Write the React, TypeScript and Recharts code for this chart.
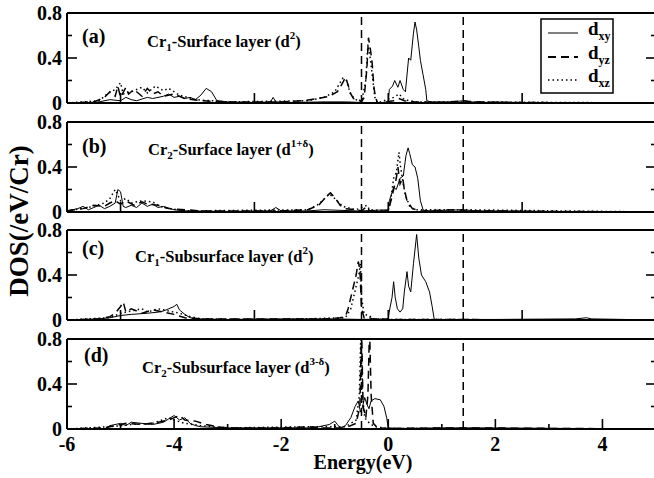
import React from "react";
import { LineChart, Line, XAxis, YAxis, ReferenceLine } from "recharts";

type Pts = [number, number][];

// (a) Cr1 surface layer
const aXY: Pts = [
  [-6, 0], [-5.6, 0.005], [-5.4, 0.01], [-5.2, 0.03], [-5.0, 0.02], [-4.9, 0.05], [-4.8, 0.03],
  [-4.7, 0.02], [-4.5, 0.05], [-4.4, 0.04], [-4.2, 0.06], [-4.1, 0.08], [-4.0, 0.05], [-3.9, 0.06],
  [-3.8, 0.04], [-3.7, 0.05], [-3.6, 0.03], [-3.5, 0.07], [-3.4, 0.13], [-3.3, 0.1], [-3.2, 0.02],
  [-3.0, 0.01], [-2.5, 0.005], [-2.2, 0.01], [-2.15, 0.05], [-2.1, 0.01], [-1.8, 0.005], [-1.2, 0.01],
  [-0.8, 0.01], [-0.5, 0.005], [-0.2, 0], [0, 0.01], [0.02, 0.12], [0.08, 0.15], [0.12, 0.2],
  [0.18, 0.14], [0.22, 0.2], [0.28, 0.12], [0.32, 0.1], [0.38, 0.4], [0.42, 0.38], [0.47, 0.62],
  [0.5, 0.72], [0.53, 0.65], [0.57, 0.5], [0.6, 0.38], [0.65, 0.25], [0.7, 0.12], [0.72, 0.02],
  [0.8, 0.01], [1.2, 0.01], [1.4, 0.02], [1.5, 0.01], [1.8, 0.005], [2.0, 0.01], [2.4, 0.005], [5, 0],
];
const aYZ: Pts = [
  [-6, 0], [-5.5, 0.01], [-5.3, 0.05], [-5.2, 0.1], [-5.1, 0.06], [-5.05, 0.15], [-5.0, 0.05],
  [-4.9, 0.14], [-4.85, 0.08], [-4.75, 0.12], [-4.6, 0.06], [-4.5, 0.13], [-4.4, 0.08], [-4.3, 0.1],
  [-4.2, 0.06], [-4.0, 0.08], [-3.8, 0.04], [-3.5, 0.02], [-3.0, 0.01], [-2.0, 0.01], [-1.6, 0.02],
  [-1.3, 0.04], [-1.1, 0.06], [-0.95, 0.1], [-0.85, 0.18], [-0.8, 0.23], [-0.75, 0.16], [-0.7, 0.08],
  [-0.65, 0.04], [-0.55, 0.03], [-0.5, 0.01], [-0.45, 0.05], [-0.4, 0.3], [-0.37, 0.58], [-0.34, 0.5],
  [-0.3, 0.35], [-0.27, 0.15], [-0.24, 0.05], [-0.2, 0], [0.1, 0.02], [0.2, 0.04], [0.3, 0.02],
  [0.5, 0.01], [1.0, 0.005], [1.4, 0.02], [1.5, 0.015], [2, 0.005], [5, 0],
];
const aXZ: Pts = [
  [-6, 0], [-5.4, 0.02], [-5.25, 0.08], [-5.1, 0.12], [-5.0, 0.18], [-4.95, 0.08], [-4.8, 0.1],
  [-4.6, 0.14], [-4.5, 0.09], [-4.35, 0.15], [-4.2, 0.11], [-4.1, 0.13], [-3.9, 0.07], [-3.6, 0.03],
  [-3.0, 0.01], [-1.5, 0.02], [-1.2, 0.05], [-1.0, 0.1], [-0.85, 0.22], [-0.78, 0.2], [-0.7, 0.07],
  [-0.6, 0.03], [-0.5, 0.01], [-0.42, 0.2], [-0.38, 0.52], [-0.35, 0.45], [-0.3, 0.25], [-0.25, 0.05],
  [-0.2, 0], [0.1, 0.05], [0.2, 0.08], [0.3, 0.03], [0.5, 0.01], [1.4, 0.01], [5, 0],
];

// (b) Cr2 surface layer
const bXY: Pts = [
  [-6, 0.01], [-5.8, 0.03], [-5.7, 0.05], [-5.6, 0.02], [-5.5, 0.04], [-5.4, 0.06], [-5.3, 0.03],
  [-5.2, 0.05], [-5.1, 0.08], [-5.05, 0.2], [-5.0, 0.18], [-4.95, 0.05], [-4.9, 0.04], [-4.8, 0.06],
  [-4.7, 0.04], [-4.6, 0.08], [-4.5, 0.05], [-4.4, 0.07], [-4.3, 0.04], [-4.2, 0.05], [-4.0, 0.02],
  [-3.8, 0.01], [-3.0, 0.005], [-2.2, 0.01], [-2.1, 0.04], [-2.0, 0.01], [-1.5, 0.01], [-1.2, 0.02],
  [-0.6, 0.01], [-0.5, 0.01], [0, 0.02], [0.02, 0.1], [0.1, 0.22], [0.15, 0.2], [0.22, 0.3],
  [0.28, 0.32], [0.33, 0.5], [0.37, 0.57], [0.4, 0.52], [0.45, 0.42], [0.5, 0.4], [0.55, 0.3],
  [0.6, 0.1], [0.65, 0.02], [0.7, 0.01], [1.4, 0.02], [1.6, 0.01], [2.0, 0.01], [3, 0.005], [5, 0],
];
const bYZ: Pts = [
  [-6, 0.01], [-5.7, 0.03], [-5.5, 0.06], [-5.3, 0.05], [-5.2, 0.08], [-5.1, 0.1], [-5.0, 0.07],
  [-4.9, 0.1], [-4.75, 0.06], [-4.6, 0.09], [-4.5, 0.07], [-4.3, 0.06], [-4.1, 0.03], [-3.5, 0.01],
  [-2.0, 0.01], [-1.5, 0.02], [-1.3, 0.06], [-1.15, 0.14], [-1.08, 0.17], [-1.0, 0.13], [-0.9, 0.06],
  [-0.8, 0.03], [-0.6, 0.02], [-0.5, 0.01], [-0.4, 0.05], [-0.35, 0.01], [0, 0.01], [0.05, 0.1],
  [0.1, 0.2], [0.15, 0.3], [0.18, 0.4], [0.22, 0.25], [0.27, 0.3], [0.3, 0.2], [0.35, 0.1],
  [0.45, 0.03], [0.6, 0.01], [1.3, 0.02], [1.45, 0.01], [5, 0],
];
const bXZ: Pts = [
  [-6, 0.01], [-5.6, 0.04], [-5.3, 0.08], [-5.2, 0.12], [-5.1, 0.2], [-5.0, 0.1], [-4.9, 0.12],
  [-4.8, 0.08], [-4.6, 0.1], [-4.4, 0.09], [-4.3, 0.06], [-4.2, 0.04], [-3.8, 0.01], [-1.5, 0.02],
  [-1.3, 0.07], [-1.1, 0.16], [-1.0, 0.12], [-0.85, 0.05], [-0.6, 0.02], [-0.4, 0.06], [-0.35, 0.02],
  [0, 0.01], [0.05, 0.12], [0.1, 0.3], [0.15, 0.35], [0.2, 0.53], [0.23, 0.4], [0.28, 0.25],
  [0.32, 0.15], [0.4, 0.05], [0.5, 0.02], [1.4, 0.02], [5, 0],
];

// (c) Cr1 subsurface layer
const cXY: Pts = [
  [-6, 0], [-5.4, 0.01], [-5.2, 0.02], [-5.0, 0.04], [-4.8, 0.05], [-4.5, 0.06], [-4.3, 0.07],
  [-4.2, 0.08], [-4.1, 0.1], [-4.0, 0.12], [-3.95, 0.14], [-3.9, 0.09], [-3.8, 0.05], [-3.7, 0.02],
  [-3.5, 0.01], [-3, 0.005], [-2, 0.01], [-1, 0.01], [-0.5, 0.005], [0, 0.01], [0.02, 0.08],
  [0.07, 0.2], [0.1, 0.34], [0.13, 0.2], [0.17, 0.1], [0.22, 0.07], [0.27, 0.1], [0.3, 0.25],
  [0.35, 0.43], [0.38, 0.3], [0.42, 0.25], [0.47, 0.5], [0.53, 0.76], [0.57, 0.55], [0.62, 0.4],
  [0.7, 0.34], [0.77, 0.25], [0.82, 0.12], [0.86, 0], [1, 0.005], [2, 0.005], [3.5, 0.01],
  [3.7, 0.02], [3.8, 0.01], [5, 0],
];
const cYZ: Pts = [
  [-6, 0], [-5.4, 0.01], [-5.2, 0.03], [-5.1, 0.06], [-5.0, 0.12], [-4.95, 0.16], [-4.9, 0.07],
  [-4.8, 0.1], [-4.6, 0.06], [-4.4, 0.09], [-4.2, 0.07], [-4.0, 0.05], [-3.8, 0.02], [-3.5, 0.01],
  [-2, 0.01], [-1.2, 0.01], [-0.9, 0.02], [-0.8, 0.03], [-0.75, 0.1], [-0.7, 0.2], [-0.65, 0.3],
  [-0.6, 0.4], [-0.56, 0.52], [-0.53, 0.45], [-0.5, 0.1], [-0.45, 0.02], [-0.4, 0.03], [-0.3, 0.01],
  [0, 0.005], [5, 0],
];
const cXZ: Pts = [
  [-6, 0], [-5.2, 0.02], [-5.0, 0.06], [-4.8, 0.08], [-4.6, 0.1], [-4.5, 0.07], [-4.3, 0.1],
  [-4.1, 0.08], [-3.9, 0.06], [-3.7, 0.03], [-3.5, 0.01], [-2, 0.005], [-0.8, 0.02], [-0.7, 0.1],
  [-0.6, 0.3], [-0.55, 0.4], [-0.52, 0.5], [-0.5, 0.2], [-0.45, 0.05], [-0.35, 0.04], [-0.3, 0.01],
  [0, 0.005], [5, 0],
];

// (d) Cr2 subsurface layer
const dXY: Pts = [
  [-6, 0], [-5.3, 0], [-5.2, 0.03], [-5.0, 0.05], [-4.9, 0.03], [-4.8, 0.06], [-4.6, 0.05],
  [-4.4, 0.04], [-4.2, 0.06], [-4.1, 0.09], [-4.0, 0.12], [-3.9, 0.08], [-3.8, 0.1], [-3.7, 0.05],
  [-3.6, 0.03], [-3.5, 0.02], [-3, 0.01], [-2, 0.01], [-1.5, 0.01], [-1.3, 0.02], [-1.1, 0.04],
  [-1.0, 0.07], [-0.95, 0.04], [-0.9, 0.01], [-0.8, 0.03], [-0.7, 0.1], [-0.62, 0.2], [-0.56, 0.25],
  [-0.52, 0.15], [-0.48, 0.2], [-0.44, 0.28], [-0.4, 0.22], [-0.36, 0.18], [-0.32, 0.25],
  [-0.25, 0.27], [-0.15, 0.26], [-0.08, 0.2], [-0.03, 0.1], [0, 0.01], [0.2, 0.005], [1, 0.01],
  [1.8, 0.01], [5, 0],
];
const dYZ: Pts = [
  [-6, 0], [-5.3, 0.01], [-5.1, 0.03], [-4.9, 0.05], [-4.6, 0.04], [-4.3, 0.06], [-4.1, 0.08],
  [-3.9, 0.12], [-3.8, 0.08], [-3.6, 0.07], [-3.4, 0.04], [-3.2, 0.02], [-3, 0.01], [-2, 0.01],
  [-1.5, 0.02], [-1.2, 0.01], [-0.8, 0.01], [-0.6, 0.05], [-0.53, 0.2], [-0.5, 0.9], [-0.47, 0.2],
  [-0.42, 0.1], [-0.38, 0.3], [-0.35, 0.9], [-0.32, 0.3], [-0.28, 0.05], [-0.2, 0.01], [0, 0.005],
  [1.4, 0.01], [5, 0],
];
const dXZ: Pts = [
  [-6, 0], [-5.2, 0.02], [-4.8, 0.04], [-4.4, 0.05], [-4.1, 0.1], [-4.0, 0.08], [-3.8, 0.05],
  [-3.5, 0.03], [-3, 0.01], [-1.5, 0.02], [-0.8, 0.02], [-0.6, 0.08], [-0.54, 0.3], [-0.51, 0.9],
  [-0.48, 0.3], [-0.44, 0.1], [-0.35, 0.05], [-0.25, 0.02], [0, 0.005], [5, 0],
];

const series = [
  [aXY, aYZ, aXZ],
  [bXY, bYZ, bXZ],
  [cXY, cYZ, cXZ],
  [dXY, dYZ, dXZ],
];

const fermiLines = [-0.5, 1.4];
const xTicksTop = [-5, -2.5, 0, 2.5, 5];
const xTicksD = [-6, -5, -4, -3, -2, -1, 0, 1, 2, 3, 4, 5];
const xLabelsD = [-6, -4, -2, 0, 2, 4];
const yTicks = [0, 0.2, 0.4, 0.6, 0.8];
const yLabels = [0, 0.4, 0.8];

const panelTops = [13, 122, 230, 339];
const PAD = 14;
const FONT = "'Liberation Serif', 'Times New Roman', serif";
const dash = { xy: undefined, yz: "8 5", xz: "1.5 3" };

const toRows = (p: Pts) => p.map(([e, v]) => ({ e, v }));

function tickLen(v: number, majors: number[]) {
  return majors.includes(v) ? 10 : 5;
}

function XTick(props: any) {
  const { x, y, payload, side, majors, labels } = props;
  const v = payload.value;
  const len = tickLen(v, majors);
  const dir = side === "bottom" ? -1 : 1;
  return (
    <g>
      <line x1={x} x2={x} y1={y} y2={y + dir * len} stroke="#000" strokeWidth={1.6} />
      {labels && labels.includes(v) && (
        <text x={x} y={y + 22} textAnchor="middle" fontFamily={FONT} fontWeight="bold" fontSize={20} fill="#000">
          {v}
        </text>
      )}
    </g>
  );
}

function YTick(props: any) {
  const { x, y, payload, side } = props;
  const v = payload.value;
  const len = tickLen(v, yLabels);
  const dir = side === "left" ? 1 : -1;
  return (
    <g>
      <line x1={x} x2={x + dir * len} y1={y} y2={y} stroke="#000" strokeWidth={1.6} />
      {side === "left" && yLabels.includes(v) && (
        <text x={x - 5} y={y} dy="0.36em" textAnchor="end" fontFamily={FONT} fontWeight="bold" fontSize={20} fill="#000">
          {v}
        </text>
      )}
    </g>
  );
}

const frame = { stroke: "#000", strokeWidth: 2 };

function Panel({ idx }: { idx: number }) {
  const last = idx === 3;
  const bottomH = last ? 50 : 1;
  const bottomPad = last ? 0 : PAD;
  const [xy, yz, xz] = series[idx];
  const ticks = last ? xTicksD : xTicksTop;
  const majors = last ? xLabelsD : xTicksTop;
  return (
    <div style={{ position: "absolute", left: 0, top: panelTops[idx] - 1 - PAD }}>
      <LineChart
        width={658}
        height={PAD + 91 + bottomH + bottomPad}
        margin={{ top: PAD, right: 1, bottom: bottomPad, left: 0 }}
      >
        <XAxis
          xAxisId="b"
          dataKey="e"
          type="number"
          domain={[-6, 5]}
          allowDataOverflow
          ticks={ticks}
          interval={0}
          height={bottomH}
          tickSize={0}
          tickMargin={0}
          tickLine={false}
          axisLine={frame}
          tick={(p: any) => <XTick {...p} side="bottom" majors={majors} labels={last ? xLabelsD : null} />}
        />
        <XAxis
          xAxisId="t"
          orientation="top"
          type="number"
          domain={[-6, 5]}
          allowDataOverflow
          ticks={ticks}
          interval={0}
          height={1}
          tickSize={0}
          tickMargin={0}
          tickLine={false}
          axisLine={frame}
          tick={(p: any) => <XTick {...p} side="top" majors={majors} labels={null} />}
        />
        <YAxis
          yAxisId="l"
          type="number"
          domain={[0, 0.8]}
          allowDataOverflow
          ticks={yTicks}
          interval={0}
          width={67}
          tickSize={0}
          tickMargin={0}
          tickLine={false}
          axisLine={frame}
          tick={(p: any) => <YTick {...p} side="left" />}
        />
        <YAxis
          yAxisId="r"
          orientation="right"
          type="number"
          domain={[0, 0.8]}
          allowDataOverflow
          ticks={yTicks}
          interval={0}
          width={1}
          tickSize={0}
          tickMargin={0}
          tickLine={false}
          axisLine={frame}
          tick={(p: any) => <YTick {...p} side="right" />}
        />
        {fermiLines.map((f) => (
          <ReferenceLine key={f} x={f} xAxisId="b" yAxisId="l" stroke="#000" strokeWidth={1.5} strokeDasharray="8 5" />
        ))}
        <Line xAxisId="b" yAxisId="l" data={toRows(xz)} dataKey="v" type="linear" dot={false} stroke="#000" strokeWidth={1.5} strokeDasharray={dash.xz} isAnimationActive={false} />
        <Line xAxisId="b" yAxisId="l" data={toRows(yz)} dataKey="v" type="linear" dot={false} stroke="#000" strokeWidth={1.5} strokeDasharray={dash.yz} isAnimationActive={false} />
        <Line xAxisId="b" yAxisId="l" data={toRows(xy)} dataKey="v" type="linear" dot={false} stroke="#000" strokeWidth={1} isAnimationActive={false} />
      </LineChart>
    </div>
  );
}

const titles = [
  { tag: "(a)", n: "1", layer: "-Surface layer (d", sup: "2" },
  { tag: "(b)", n: "2", layer: "-Surface layer (d", sup: "1+δ" },
  { tag: "(c)", n: "1", layer: "-Subsurface layer (d", sup: "2" },
  { tag: "(d)", n: "2", layer: "-Subsurface layer (d", sup: "3-δ" },
];
const tagPos = [[82, 43], [82, 153], [82, 255], [84, 362]];
const titlePos = [[147, 47], [148, 155], [135, 262], [142, 373]];

const legendItems = [
  { sub: "xy", dash: dash.xy, w: 1 },
  { sub: "yz", dash: dash.yz, w: 1.8 },
  { sub: "xz", dash: dash.xz, w: 1.5 },
];

export default function App() {
  return (
    <div style={{ position: "absolute", left: 0, top: 0, width: 654, height: 478, overflow: "hidden", background: "#fff" }}>
      {[0, 1, 2, 3].map((i) => (
        <Panel key={i} idx={i} />
      ))}
      <svg width={654} height={478} style={{ position: "absolute", left: 0, top: 0, pointerEvents: "none" }}>
        <g fontFamily={FONT} fontWeight="bold" fill="#000">
          {titles.map((t, i) => (
            <g key={t.tag}>
              <text x={tagPos[i][0]} y={tagPos[i][1]} fontSize={20}>{t.tag}</text>
              <text x={titlePos[i][0]} y={titlePos[i][1]} fontSize={16.5}>
                Cr<tspan dy={4} fontSize={11}>{t.n}</tspan>
                <tspan dy={-4}>{t.layer}</tspan>
                <tspan dy={-8} fontSize={11}>{t.sup}</tspan>
                <tspan dy={8}>)</tspan>
              </text>
            </g>
          ))}
          <text transform="rotate(-90)" x={-221} y={28} textAnchor="middle" fontSize={27}>DOS(/eV/Cr)</text>
          <text x={363} y={469} textAnchor="middle" fontSize={20}>Energy(eV)</text>
          <rect x={541} y={19} width={72} height={74} fill="#fff" stroke="#000" strokeWidth={1.5} />
          {legendItems.map((l, i) => {
            const cy = [33, 57, 80][i];
            return (
              <g key={l.sub}>
                <line x1={548} x2={578} y1={cy} y2={cy} stroke="#000" strokeWidth={l.w} strokeDasharray={l.dash} />
                <text x={588} y={cy + 2} fontSize={19}>
                  d<tspan dy={5} fontSize={12}>{l.sub}</tspan>
                </text>
              </g>
            );
          })}
        </g>
      </svg>
    </div>
  );
}
